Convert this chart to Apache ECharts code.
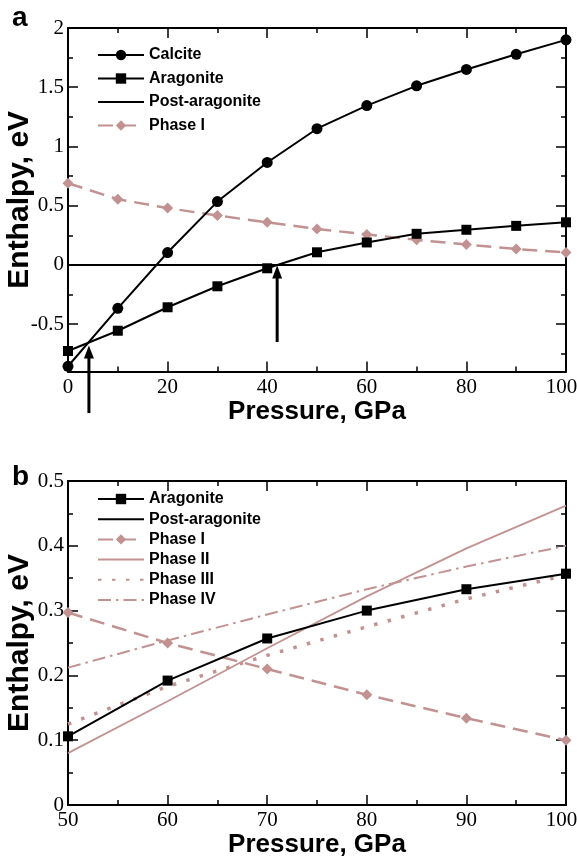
<!DOCTYPE html>
<html><head><meta charset="utf-8">
<script src="https://cdn.jsdelivr.net/npm/echarts@6/dist/echarts.min.js"></script>
<style>html,body{margin:0;padding:0;background:#fff}#c{width:577px;height:859px}</style>
</head><body><div id="c"></div>
<script>
// ---- Panel a data ----
const pressureA = [0,10,20,30,40,50,60,70,80,90,100];
const calciteA = [-0.855,-0.366,0.105,0.535,0.865,1.150,1.345,1.512,1.650,1.778,1.900];
const aragoniteA = [-0.726,-0.555,-0.357,-0.180,-0.028,0.107,0.190,0.263,0.297,0.330,0.360];
const postAragoniteA = [0,0,0,0,0,0,0,0,0,0,0];
const phaseIA = [0.690,0.555,0.480,0.417,0.360,0.304,0.258,0.212,0.172,0.135,0.106];
// arrows: [pressure, tail enthalpy, tip enthalpy]
const arrowsA = [[4.2,-1.25,-0.68],[42,-0.65,-0.005]];
const yTicksA = [-0.5,0,0.5,1,1.5,2];
const yMinorA = [-0.75,-0.25,0.25,0.75,1.25,1.75];

// ---- Panel b data ----
const pressureB = [50,60,70,80,90,100];
const aragoniteB = [0.106,0.192,0.257,0.300,0.333,0.357];
const postAragoniteB = [0,0,0,0,0,0];
const phaseIB = [0.297,0.250,0.210,0.170,0.134,0.100];
const phaseIIB = [0.080,0.160,0.242,0.322,0.396,0.462];
const phaseIIIB = [0.125,0.183,0.231,0.275,0.318,0.355];
const phaseIVB = [0.212,0.254,0.294,0.333,0.368,0.400];

const legendA = ['Calcite','Aragonite','Post-aragonite','Phase I'];
const legendB = ['Aragonite','Post-aragonite','Phase I','Phase II','Phase III','Phase IV'];
const lineOnly = ['Post-aragonite','Phase II','Phase III','Phase IV'];

const BLACK = '#000';
const PINK = '#c29292';
const zip = (xs, ys) => xs.map((x, i) => [x, ys[i]]);
const legendItems = names => names.map(n => lineOnly.indexOf(n) >= 0 ? {name:n, itemStyle:{opacity:0}} : {name:n});

const tickFont = {fontFamily:'Liberation Serif', fontSize:21, color:BLACK};
const nameFontX = {fontFamily:'Liberation Sans', fontWeight:'bold', fontSize:26, color:BLACK};
const nameFontY = {fontFamily:'Liberation Sans', fontWeight:'bold', fontSize:30, color:BLACK};
const axisLine = {show:true, onZero:false, lineStyle:{color:BLACK, width:2}};
const majorTick = {show:true, inside:true, length:10, lineStyle:{color:BLACK, width:1.5}};
const minorTick = {show:true, splitNumber:2, length:5, lineStyle:{color:BLACK, width:1.5}};

function xAx(grid, pos, min, max, interval, withName) {
  return {
    type:'value', gridIndex:grid, position:pos, min, max, interval,
    axisLine, axisTick:majorTick, minorTick, splitLine:{show:false}, minorSplitLine:{show:false},
    axisLabel: withName ? Object.assign({show:true, margin:5, hideOverlap:false,
        formatter: v => v === max ? '{m|' + v + '}' : String(v),
        rich:{m:Object.assign({padding:[0,9,0,0]}, tickFont)}}, tickFont) : {show:false},
    name: withName ? 'Pressure, GPa' : '', nameLocation:'middle', nameGap:27, nameMoveOverlap:false,
    nameTextStyle:nameFontX
  };
}

const option = {
  backgroundColor:'#fff',
  animation:false,
  title:[
    {text:'a', left:12, top:4, padding:0, textStyle:{fontFamily:'Liberation Sans', fontWeight:'bold', fontSize:28, color:BLACK}},
    {text:'b', left:12, top:463, padding:0, textStyle:{fontFamily:'Liberation Sans', fontWeight:'bold', fontSize:28, color:BLACK}}
  ],
  grid:[
    {left:68, right:11, top:28, height:343.6, containLabel:false, outerBoundsMode:'none'},
    {left:68, right:11, top:481, height:324, containLabel:false, outerBoundsMode:'none'}
  ],
  legend:[
    {data:legendItems(legendA), orient:'vertical', left:92, top:42, itemWidth:46, itemHeight:13, itemGap:7.5,
     selectedMode:false, textStyle:{fontFamily:'Liberation Sans', fontWeight:'bold', fontSize:16, lineHeight:16, color:BLACK}},
    {data:legendItems(legendB), orient:'vertical', left:92, top:486, itemWidth:46, itemHeight:13, itemGap:4.2,
     selectedMode:false, textStyle:{fontFamily:'Liberation Sans', fontWeight:'bold', fontSize:16, lineHeight:16, color:BLACK}}
  ],
  xAxis:[
    xAx(0,'bottom',0,100,20,true),
    xAx(0,'top',0,100,20,false),
    xAx(1,'bottom',50,100,10,true),
    xAx(1,'top',50,100,10,false)
  ],
  yAxis:[
    {type:'value', gridIndex:0, position:'left', min:-0.9, max:2,
     axisLine, splitLine:{show:false},
     axisTick:Object.assign({customValues:yTicksA}, majorTick), minorTick:{show:false},
     axisLabel:Object.assign({show:true, margin:4, customValues:yTicksA}, tickFont),
     name:'Enthalpy, eV', nameLocation:'middle', nameGap:33, nameMoveOverlap:false, nameTextStyle:nameFontY},
    {type:'value', gridIndex:0, position:'right', min:-0.9, max:2,
     axisLine, splitLine:{show:false},
     axisTick:Object.assign({customValues:yTicksA}, majorTick), minorTick:{show:false},
     axisLabel:{show:false}},
    {type:'value', gridIndex:0, position:'left', min:-0.9, max:2,
     axisLine:{show:false, onZero:false}, splitLine:{show:false},
     axisTick:{show:true, inside:true, length:5, customValues:yMinorA, lineStyle:{color:BLACK, width:1.5}},
     minorTick:{show:false}, axisLabel:{show:false}},
    {type:'value', gridIndex:0, position:'right', min:-0.9, max:2,
     axisLine:{show:false, onZero:false}, splitLine:{show:false},
     axisTick:{show:true, inside:true, length:5, customValues:yMinorA, lineStyle:{color:BLACK, width:1.5}},
     minorTick:{show:false}, axisLabel:{show:false}},
    {type:'value', gridIndex:1, position:'left', min:0, max:0.5, interval:0.1,
     axisLine, axisTick:majorTick, minorTick, splitLine:{show:false}, minorSplitLine:{show:false},
     axisLabel:Object.assign({show:true, margin:4}, tickFont),
     name:'Enthalpy, eV', nameLocation:'middle', nameGap:33, nameMoveOverlap:false, nameTextStyle:nameFontY},
    {type:'value', gridIndex:1, position:'right', min:0, max:0.5, interval:0.1,
     axisLine, axisTick:majorTick, minorTick, splitLine:{show:false}, minorSplitLine:{show:false},
     axisLabel:{show:false}}
  ],
  series:[
    // panel a
    {name:'Phase I', type:'line', xAxisIndex:0, yAxisIndex:0, data:zip(pressureA, phaseIA),
     symbol:'diamond', symbolSize:11, itemStyle:{color:PINK}, lineStyle:{color:PINK, width:2.5, type:[15,8]}},
    {name:'Post-aragonite', type:'line', xAxisIndex:0, yAxisIndex:0, data:zip(pressureA, postAragoniteA),
     symbol:'none', showSymbol:false, itemStyle:{color:BLACK}, lineStyle:{color:BLACK, width:2}},
    {name:'Aragonite', type:'line', xAxisIndex:0, yAxisIndex:0, data:zip(pressureA, aragoniteA),
     symbol:'rect', symbolSize:10, itemStyle:{color:BLACK}, lineStyle:{color:BLACK, width:2}},
    {name:'Calcite', type:'line', xAxisIndex:0, yAxisIndex:0, data:zip(pressureA, calciteA),
     symbol:'circle', symbolSize:11, itemStyle:{color:BLACK}, lineStyle:{color:BLACK, width:2}},
    {name:'arrows', type:'custom', xAxisIndex:0, yAxisIndex:0, clip:false, silent:true, z:5,
     data:arrowsA, encode:{x:0, y:[1,2]},
     renderItem:function(params, api){
       const p0 = api.coord([api.value(0), api.value(1)]);
       const p1 = api.coord([api.value(0), api.value(2)]);
       const head = 13, hw = 5;
       return {type:'group', children:[
         {type:'line', shape:{x1:p0[0], y1:p0[1], x2:p1[0], y2:p1[1]+head-1}, style:{stroke:BLACK, lineWidth:3}},
         {type:'polygon', shape:{points:[[p1[0],p1[1]],[p1[0]-hw,p1[1]+head],[p1[0]+hw,p1[1]+head]]}, style:{fill:BLACK}}
       ]};
     }},
    // panel b
    {name:'Phase I', type:'line', xAxisIndex:2, yAxisIndex:4, data:zip(pressureB, phaseIB),
     symbol:'diamond', symbolSize:11, itemStyle:{color:PINK}, lineStyle:{color:PINK, width:2.5, type:[15,8]}},
    {name:'Phase II', type:'line', xAxisIndex:2, yAxisIndex:4, data:zip(pressureB, phaseIIB),
     symbol:'none', showSymbol:false, itemStyle:{color:PINK}, lineStyle:{color:PINK, width:1.8}},
    {name:'Phase III', type:'line', xAxisIndex:2, yAxisIndex:4, data:zip(pressureB, phaseIIIB),
     symbol:'none', showSymbol:false, itemStyle:{color:PINK}, lineStyle:{color:PINK, width:3.5, type:[3.5,10.5]}},
    {name:'Phase IV', type:'line', xAxisIndex:2, yAxisIndex:4, data:zip(pressureB, phaseIVB),
     symbol:'none', showSymbol:false, itemStyle:{color:PINK}, lineStyle:{color:PINK, width:2, type:[13,5,2.5,5]}},
    {name:'Post-aragonite', type:'line', xAxisIndex:2, yAxisIndex:4, data:zip(pressureB, postAragoniteB),
     symbol:'none', showSymbol:false, itemStyle:{color:BLACK}, lineStyle:{color:BLACK, width:2}},
    {name:'Aragonite', type:'line', xAxisIndex:2, yAxisIndex:4, data:zip(pressureB, aragoniteB),
     symbol:'rect', symbolSize:10, itemStyle:{color:BLACK}, lineStyle:{color:BLACK, width:2}}
  ]
};
const chart = echarts.init(document.getElementById('c'), null, {renderer:'canvas'});
chart.setOption(option);
</script></body></html>
